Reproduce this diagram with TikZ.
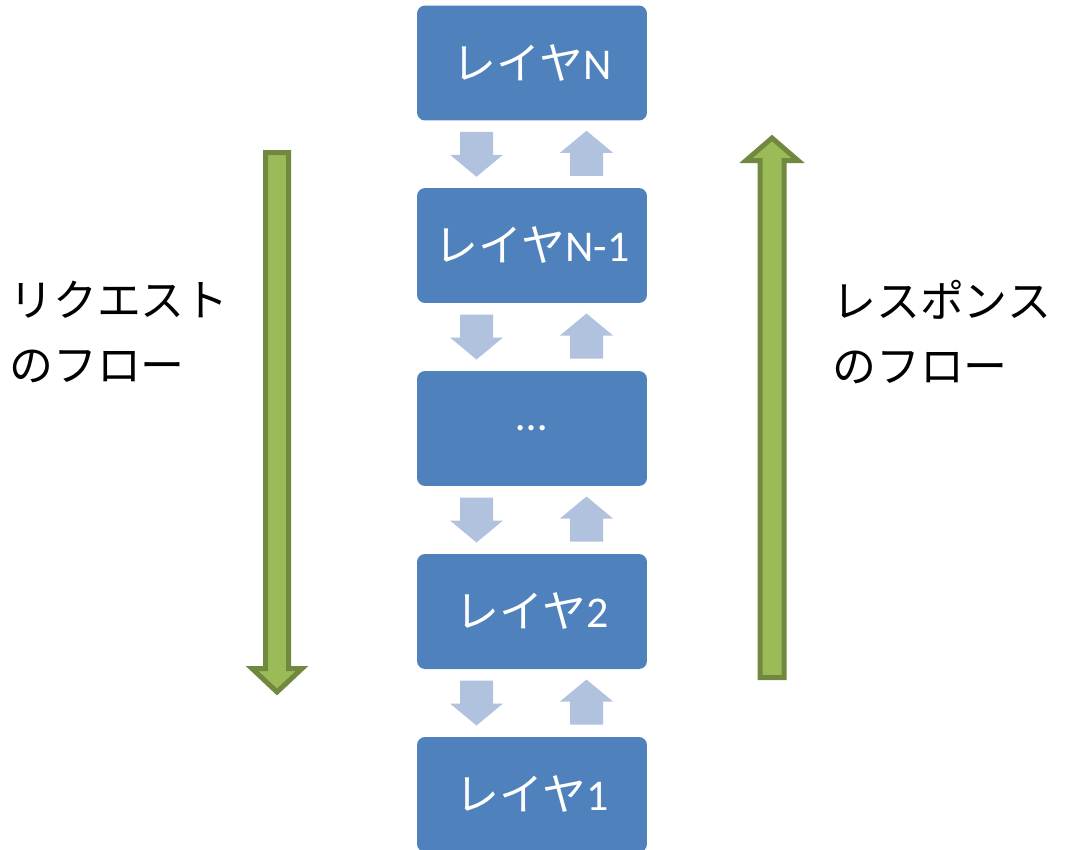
\documentclass[tikz,border=0pt]{standalone}
\usepackage{fontspec}
\setmainfont{Carlito}
\newfontfamily\jp{Noto Sans CJK JP}
\usetikzlibrary{calc}
\definecolor{layerblue}{HTML}{4F81BD}
\definecolor{flowblue}{HTML}{B0C2DE}
\definecolor{greenfill}{HTML}{9BBB59}
\definecolor{greenline}{HTML}{71893F}
\tikzset{
  layer/.style={rectangle, rounded corners=0.16cm, fill=layerblue, text=white,
    minimum width=4.6cm, minimum height=2.3cm, font=\fontsize{25}{30}\selectfont},
  flow/.style={fill=flowblue},
  bigarrow/.style={fill=greenfill, draw=greenline, line width=0.1cm, line join=miter},
  flowtext/.style={align=left, font=\jp\fontsize{25}{36.5}\selectfont}
}
\begin{document}
\begin{tikzpicture}[x=0.02cm,y=-0.02cm]
      \useasboundingbox (0,0) rectangle (1075,849);

      \node [layer] (lN) at (532,63) {{\jp レイヤ}N};
      \node [layer] (lN1) at (532,245.5) {{\jp レイヤ}N-1};
      \node [layer] (ldots) at (532,428.5) {\ldots};
      \node [layer] (l2) at (532,611.5) {{\jp レイヤ}2};
      \node [layer] (l1) at (532,794.5) {{\jp レイヤ}1};

      \foreach \a/\b in {lN/lN1, lN1/ldots, ldots/l2, l2/l1} {
        \path (\a.south) -- (\b.north) coordinate [midway] (m);
        \fill [flow, shift={($(m)+(-55.5,0)$)}] (-16.5,-22.5) -- (16.5,-22.5) -- (16.5,0.5) -- (26.5,0.5) -- (0,22.5) -- (-26.5,0.5) -- (-16.5,0.5) -- cycle;
        \fill [flow, shift={($(m)+(54.5,-1)$)}] (-16.5,22.5) -- (16.5,22.5) -- (16.5,-0.5) -- (26.5,-0.5) -- (0,-22.5) -- (-26.5,-0.5) -- (-16.5,-0.5) -- cycle;
      }

      \draw [bigarrow] (265.5,152.5) -- (288.5,152.5) -- (288.5,668.5) -- (302,668.5) -- (277,692) -- (252,668.5) -- (265.5,668.5) -- cycle;
      \draw [bigarrow] (760,677.5) -- (784,677.5) -- (784,160.5) -- (798,160.5) -- (772,138) -- (746,160.5) -- (760,160.5) -- cycle;

      \node [flowtext, anchor=west] (req) at (3,332) {リクエスト\\のフロー};
      \node [flowtext, anchor=west] (res) at (826,332) {レスポンス\\のフロー};
\end{tikzpicture}
\end{document}
